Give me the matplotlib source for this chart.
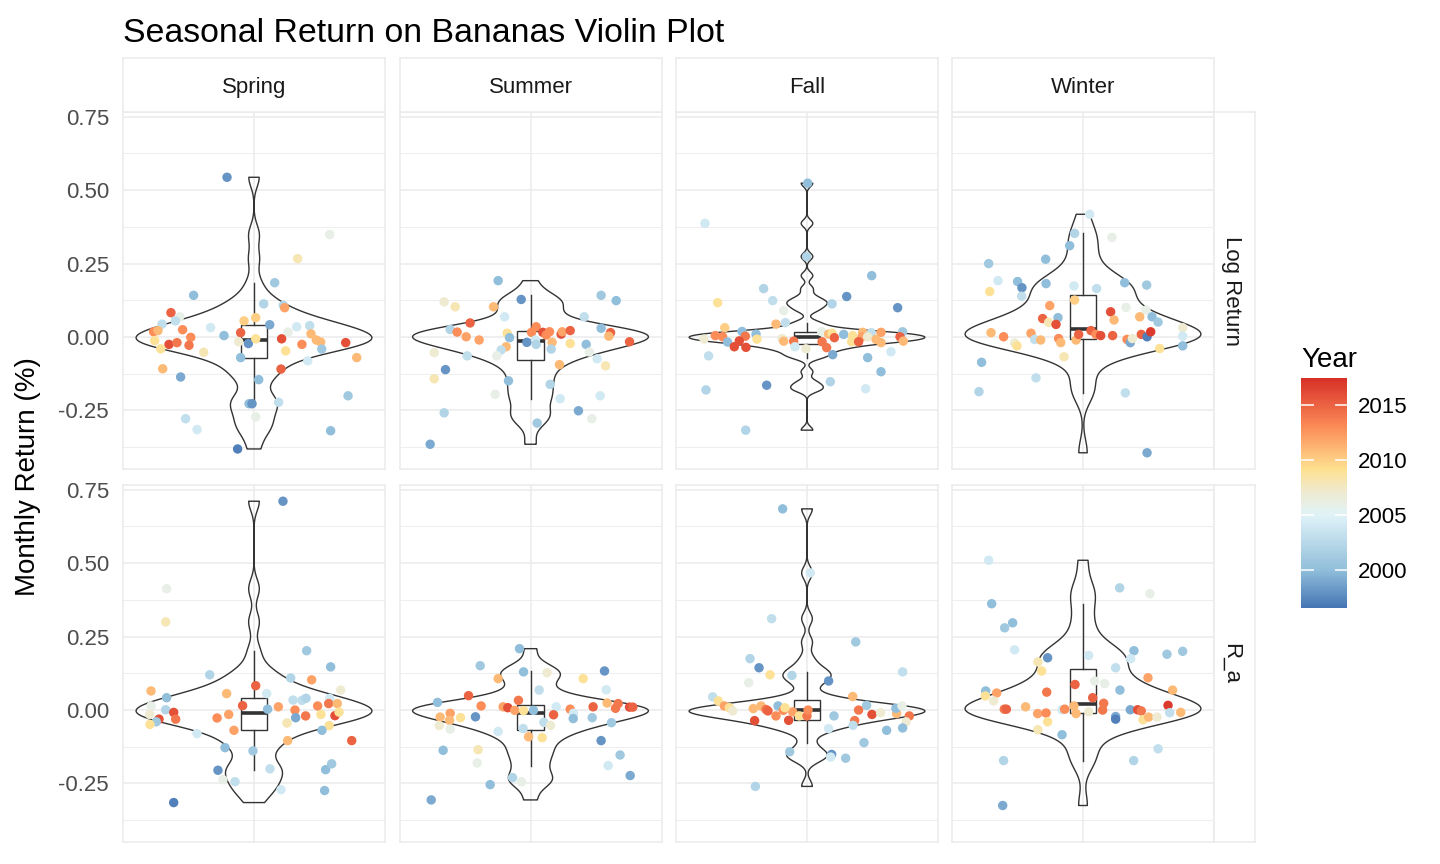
import numpy as np
import matplotlib
matplotlib.use("Agg")
import matplotlib.pyplot as plt
from matplotlib.colors import LinearSegmentedColormap, Normalize
from matplotlib.cm import ScalarMappable

plt.rcParams['font.family'] = ['Liberation Sans', 'DejaVu Sans']

seasons = ["Spring", "Summer", "Fall", "Winter"]
types = ["Log Return", "R_a"]

# jitter position (-1..1 across panel), monthly return, year
spring_log_x = [-0.206, 0.578, 0.333, 0.158, -0.461, 0.074, 0.224, 0.234, -0.634, -0.567, -0.600, -0.702,
                -0.076, 0.013, 0.120, -0.331, 0.326, 0.425, 0.260, -0.545, -0.766, -0.733, -0.229, -0.102,
                -0.483, 0.435, 0.211, -0.758, -0.649, -0.588, -0.496, -0.712, -0.384, -0.117, -0.043, 0.013,
                0.366, 0.476, 0.509, 0.517, 0.242, 0.700, 0.784, -0.102, 0.410, -0.697, 0.206, -0.560,
                0.036, 0.718, 0.188, -0.038, -0.015, -0.522, 0.013, -0.435, 0.585, -0.125]
spring_log_y = [0.544, 0.349, 0.267, 0.185, 0.142, 0.113, 0.108, 0.100, 0.083, 0.069, 0.055, 0.044,
                0.055, 0.066, 0.042, 0.032, 0.035, 0.039, 0.017, 0.025, 0.018, 0.022, 0.005, 0.015,
                -0.001, 0.011, -0.006, -0.012, -0.025, -0.019, -0.028, -0.040, -0.052, -0.016, -0.022, -0.006,
                -0.025, -0.010, -0.017, -0.041, -0.047, -0.019, -0.070, -0.070, -0.081, -0.108, -0.109, -0.136,
                -0.145, -0.200, -0.222, -0.227, -0.227, -0.278, -0.272, -0.315, -0.319, -0.381]
spring_log_year = [1998, 2006, 2008, 2001, 2000, 2002, 2002, 2012, 2015, 2006, 2003, 2003,
                   2010, 2010, 1999, 2004, 2004, 2003, 2006, 2013, 2013, 2011, 2000, 2015,
                   2013, 2011, 2016, 2009, 2016, 2014, 2014, 2009, 2008, 2007, 1998, 2009,
                   2013, 2011, 2011, 2001, 2009, 2016, 2011, 2000, 2004, 2011, 2015, 1999,
                   2000, 2001, 2003, 2000, 1998, 2003, 2006, 2004, 2000, 1997]

summer_log_x = [-0.247, 0.539, 0.654, -0.659, -0.575, -0.282, -0.071, -0.198, 0.410, -0.461, -0.613, -0.560,
                -0.491, -0.392, -0.178, -0.160, -0.186, -0.224, -0.257, -0.028, 0.008, 0.043, 0.038, 0.043,
                0.094, 0.120, 0.145, 0.165, 0.158, 0.234, 0.242, 0.303, 0.303, 0.425, 0.539, 0.611,
                0.598, 0.756, 0.450, 0.509, 0.573, 0.221, -0.735, -0.483, -0.649, -0.735, -0.168, 0.150,
                -0.270, 0.226, 0.532, 0.366, -0.659, 0.468, 0.051, -0.766]
summer_log_y = [0.192, 0.142, 0.124, 0.120, 0.103, 0.103, 0.128, 0.069, 0.069, 0.048, 0.026, 0.017,
                0.001, -0.010, 0.013, -0.002, -0.033, -0.044, -0.064, -0.018, 0.016, 0.035, -0.010, -0.025,
                0.016, 0.007, 0.018, -0.018, -0.041, 0.010, 0.018, 0.022, -0.022, -0.025, 0.030, 0.015,
                0.003, -0.016, -0.051, -0.074, -0.098, -0.094, -0.053, -0.064, -0.111, -0.142, -0.149, -0.161,
                -0.195, -0.210, -0.200, -0.251, -0.258, -0.278, -0.293, -0.365]
summer_log_year = [2000, 2001, 2000, 2007, 2008, 2011, 1998, 2004, 2003, 2015, 2002, 2013,
                   2012, 2012, 2009, 2000, 2011, 2003, 2006, 1998, 2013, 2013, 2004, 2002,
                   2016, 2013, 2013, 2011, 2002, 2016, 2012, 2015, 2009, 2000, 2000, 2015,
                   2011, 2015, 2006, 2004, 2008, 2011, 2007, 2003, 1998, 2008, 2000, 2002,
                   2006, 2004, 2004, 1999, 2002, 2006, 2001, 1999]

fall_log_x = [0.005, -0.779, -0.003, 0.494, -0.331, 0.303, -0.682, -0.262, 0.191, 0.692, -0.178, -0.237,
              -0.165, -0.628, -0.496, -0.389, -0.471, -0.700, -0.644, -0.786, -0.606, -0.517, -0.555, -0.466,
              -0.382, -0.191, -0.178, -0.102, -0.092, -0.008, 0.112, 0.165, 0.191, 0.209, 0.115, 0.150,
              0.280, 0.349, 0.341, 0.425, 0.420, 0.394, 0.491, 0.463, 0.565, 0.527, 0.565, 0.730,
              0.710, 0.735, 0.196, 0.463, 0.641, -0.751, 0.565, -0.308, 0.178, 0.448, -0.771, -0.468]
fall_log_y = [0.524, 0.387, 0.274, 0.209, 0.165, 0.138, 0.117, 0.124, 0.113, 0.100, 0.090, 0.044,
              0.049, 0.032, 0.019, 0.010, 0.003, 0.005, 0.001, -0.007, -0.017, -0.013, -0.033, -0.035,
              -0.007, -0.005, -0.014, -0.014, -0.033, -0.040, 0.018, 0.010, 0.013, -0.002, -0.016, -0.036,
              0.009, 0.005, -0.016, 0.016, 0.001, -0.016, 0.015, 0.001, 0.016, -0.008, -0.019, 0.018,
              0.001, -0.014, -0.060, -0.070, -0.050, -0.064, -0.118, -0.164, -0.152, -0.176, -0.180, -0.317]
fall_log_year = [2000, 2004, 2002, 2000, 2002, 1998, 2009, 2003, 2002, 1998, 2006, 2011,
                 2003, 2010, 2000, 2000, 2014, 2013, 2013, 2007, 2000, 2016, 2016, 2016,
                 2009, 2007, 2011, 2014, 2004, 2007, 2006, 2011, 2009, 2015, 2014, 2014,
                 2000, 2009, 2009, 2011, 2012, 2015, 2003, 2007, 2012, 2011, 2011, 2001,
                 2015, 2011, 1999, 2000, 2004, 2003, 2000, 1998, 2002, 2004, 2002, 2002]

winter_log_x = [0.051, -0.064, 0.221, -0.102, -0.720, -0.285, -0.649, -0.499, -0.466, -0.282, -0.069, 0.104,
                0.318, 0.486, -0.712, -0.468, -0.064, -0.254, 0.328, 0.481, -0.308, -0.191, -0.262, -0.206,
                0.211, 0.237, 0.433, 0.527, 0.573, 0.761, 0.761, 0.761, -0.702, -0.606, -0.397, -0.369,
                -0.522, -0.504, -0.323, -0.186, -0.170, -0.053, -0.033, 0.061, 0.099, 0.135, 0.226, 0.336,
                0.361, 0.377, 0.445, 0.489, 0.517, 0.585, -0.145, -0.774, -0.359, -0.794, 0.323, 0.489]
winter_log_y = [0.418, 0.353, 0.339, 0.311, 0.250, 0.265, 0.192, 0.189, 0.168, 0.182, 0.174, 0.165,
                0.185, 0.177, 0.155, 0.139, 0.126, 0.107, 0.101, 0.092, 0.063, 0.066, 0.050, 0.043,
                0.086, 0.058, 0.069, 0.069, 0.051, 0.032, 0.003, -0.030, 0.015, 0.001, 0.013, -0.008,
                -0.020, -0.030, -0.010, -0.005, -0.019, -0.010, 0.009, 0.022, 0.009, 0.005, 0.005, -0.008,
                -0.019, -0.005, 0.009, 0.001, 0.018, -0.039, -0.067, -0.086, -0.139, -0.186, -0.190, -0.394]
winter_log_year = [2004, 2002, 2006, 2000, 2001, 2000, 2004, 2000, 1998, 2000, 2004, 2003,
                   2000, 2001, 2009, 2003, 2010, 2012, 2006, 2006, 2015, 2000, 2008, 2016,
                   2016, 2011, 2011, 2000, 2001, 2007, 2004, 2000, 2011, 2013, 2012, 2003,
                   2007, 2009, 2011, 2013, 2011, 2011, 2015, 2015, 2013, 2016, 2015, 2013,
                   1999, 2007, 2015, 1997, 2017, 2009, 2008, 2000, 2003, 2002, 2003, 1999]

spring_ra_x = [0.221, -0.667, -0.674, 0.402, 0.585, -0.338, 0.280, 0.440, 0.013, -0.786, 0.662, -0.209,
               0.097, -0.667, 0.298, 0.366, 0.397, 0.578, -0.786, -0.674, -0.613, -0.796, -0.598, -0.725,
               -0.746, -0.794, -0.282, -0.193, -0.087, 0.104, 0.186, 0.313, 0.318, 0.394, 0.486, 0.570,
               0.636, 0.511, 0.618, 0.649, 0.252, 0.573, 0.519, -0.153, -0.435, 0.746, 0.257, -0.221,
               -0.008, -0.275, 0.547, 0.593, 0.122, -0.237, -0.145, 0.206, 0.539, -0.613]
spring_ra_y = [0.711, 0.413, 0.300, 0.202, 0.147, 0.120, 0.109, 0.103, 0.083, 0.065, 0.068, 0.056,
               0.056, 0.042, 0.034, 0.033, 0.040, 0.040, 0.014, 0.001, -0.008, -0.015, -0.031, -0.031,
               -0.040, -0.049, -0.027, -0.015, 0.015, 0.003, 0.011, 0.000, -0.026, -0.020, 0.014, 0.022,
               0.022, -0.015, -0.019, -0.007, -0.044, -0.053, -0.069, -0.069, -0.080, -0.104, -0.104, -0.128,
               -0.139, -0.205, -0.203, -0.183, -0.200, -0.237, -0.244, -0.271, -0.274, -0.315]
spring_ra_year = [1998, 2006, 2008, 2001, 2000, 2002, 2002, 2012, 2015, 2011, 2007, 2011,
                  2004, 2000, 2003, 2003, 2002, 2004, 2006, 2002, 2016, 2007, 2014, 2016,
                  2001, 2009, 2013, 2012, 2015, 2000, 2012, 2013, 1999, 2014, 2013, 2014,
                  2011, 2009, 2016, 2009, 2008, 2009, 2000, 2012, 2004, 2015, 2011, 2000,
                  2001, 1998, 2000, 2001, 2003, 2006, 2003, 2004, 2000, 1997]

summer_ra_x = [-0.084, -0.384, -0.053, 0.127, -0.247, 0.402, 0.565, 0.578, 0.066, -0.473, -0.710, -0.377,
               -0.092, -0.209, -0.173, -0.120, -0.053, 0.023, 0.196, 0.303, 0.328, 0.326, 0.478, 0.585,
               0.669, 0.649, 0.756, 0.781, 0.176, 0.471, 0.618, -0.690, -0.613, -0.618, -0.534, -0.420,
               -0.697, -0.613, 0.102, 0.153, -0.056, -0.247, -0.015, 0.089, 0.539, -0.400, -0.667, -0.407,
               0.684, 0.593, 0.761, -0.137, -0.069, -0.308, -0.758]
summer_ra_y = [0.209, 0.151, 0.130, 0.127, 0.107, 0.107, 0.133, 0.069, 0.068, 0.049, 0.026, 0.014,
               0.033, 0.011, 0.008, -0.001, -0.002, -0.001, 0.011, 0.003, -0.011, -0.029, 0.011, 0.024,
               0.022, 0.006, 0.010, 0.010, -0.016, -0.026, -0.043, -0.024, -0.011, -0.035, -0.026, -0.023,
               -0.053, -0.065, -0.042, -0.052, -0.063, -0.073, -0.091, -0.094, -0.104, -0.135, -0.137, -0.180,
               -0.153, -0.189, -0.223, -0.230, -0.244, -0.254, -0.306]
summer_ra_year = [2000, 2001, 2000, 2007, 2011, 2009, 1998, 2004, 2003, 2015, 2000, 2013,
                  2014, 2012, 2016, 2012, 2009, 2000, 2004, 2013, 2004, 2000, 2015, 2011,
                  2014, 2014, 2016, 2015, 2015, 2001, 2001, 2011, 2012, 2011, 2009, 1998,
                  2007, 2006, 2003, 2007, 2003, 2004, 2011, 2009, 1998, 2008, 2000, 2006,
                  2001, 2004, 1999, 2002, 2006, 2000, 1999]

fall_ra_x = [-0.186, 0.025, -0.270, 0.372, -0.435, -0.366, -0.282, -0.115, 0.730, -0.445, 0.165, 0.349,
             -0.720, -0.677, -0.631, -0.593, -0.567, 0.455, 0.394, 0.496, 0.562, 0.684, 0.679, 0.725,
             0.781, 0.756, 0.730, 0.608, 0.364, 0.351, 0.206, 0.165, 0.435, -0.410, -0.351, -0.313,
             -0.298, -0.237, -0.221, -0.181, -0.109, -0.168, -0.140, -0.059, 0.000, 0.008, -0.400, -0.132,
             0.188, 0.181, 0.295, -0.394]
fall_ra_y = [0.685, 0.467, 0.311, 0.232, 0.175, 0.144, 0.120, 0.118, 0.130, 0.093, 0.099, 0.046,
             0.045, 0.031, 0.014, 0.008, -0.003, 0.016, 0.000, -0.015, -0.009, -0.012, 0.006, 0.014,
             -0.020, -0.040, -0.061, -0.069, -0.036, -0.052, -0.020, -0.063, -0.111, 0.005, 0.014, 0.002,
             -0.003, -0.020, 0.014, -0.001, -0.006, 0.008, -0.035, -0.020, -0.020, 0.000, -0.036, -0.142,
             -0.151, -0.160, -0.164, -0.260]
fall_ra_year = [2000, 2004, 2003, 2001, 2002, 1998, 2009, 2002, 2003, 2006, 1998, 2011,
                2003, 2009, 2012, 2009, 2007, 2001, 2014, 2016, 2007, 2011, 2000, 2006,
                2014, 2007, 2000, 2000, 2014, 2003, 2001, 2004, 2001, 2011, 2011, 2014,
                2015, 2013, 2000, 2013, 2012, 2009, 2016, 2009, 2014, 2013, 2016, 2001,
                1998, 2004, 2001, 2002]

winter_ra_x = [-0.720, 0.280, 0.511, -0.697, -0.537, -0.598, -0.522, -0.270, 0.043, 0.389, 0.364, 0.641,
               0.761, 0.249, -0.344, -0.316, 0.496, -0.061, 0.089, 0.165, 0.282, 0.684, -0.277, -0.743,
               -0.659, -0.746, -0.682, 0.074, 0.158, -0.069, -0.601, -0.585, -0.438, -0.346, -0.282, -0.160,
               -0.140, -0.053, 0.043, 0.150, 0.249, 0.249, 0.361, 0.417, 0.445, 0.649, 0.662, 0.746,
               0.458, 0.501, 0.565, -0.270, -0.344, -0.160, 0.573, -0.606, 0.387, -0.613]
winter_ra_y = [0.510, 0.416, 0.396, 0.362, 0.297, 0.280, 0.205, 0.178, 0.186, 0.202, 0.175, 0.190,
               0.200, 0.144, 0.164, 0.133, 0.110, 0.087, 0.099, 0.090, 0.068, 0.068, 0.061, 0.065,
               0.058, 0.048, 0.031, 0.042, 0.023, 0.014, 0.003, 0.003, 0.011, -0.012, -0.010, 0.001,
               0.003, -0.012, -0.006, 0.000, -0.022, -0.031, 0.001, 0.001, -0.003, 0.016, -0.009, -0.008,
               -0.033, -0.024, -0.024, -0.040, -0.067, -0.084, -0.132, -0.172, -0.172, -0.325]
winter_ra_year = [2004, 2002, 2006, 2000, 2000, 2001, 2004, 1998, 2004, 2000, 2004, 2001,
                  2001, 2003, 2008, 2009, 2012, 2015, 2006, 2006, 2000, 2011, 2014, 2000,
                  2012, 2009, 2007, 2015, 2014, 2011, 2014, 2015, 2011, 2012, 2013, 2004,
                  2013, 2011, 2007, 2014, 1999, 1997, 1999, 2016, 2014, 2017, 2003, 2011,
                  2009, 2011, 2007, 2009, 2008, 2000, 2003, 2002, 2002, 1999]

panels = {
    ("Log Return", "Spring"): (spring_log_x, spring_log_y, spring_log_year),
    ("Log Return", "Summer"): (summer_log_x, summer_log_y, summer_log_year),
    ("Log Return", "Fall"): (fall_log_x, fall_log_y, fall_log_year),
    ("Log Return", "Winter"): (winter_log_x, winter_log_y, winter_log_year),
    ("R_a", "Spring"): (spring_ra_x, spring_ra_y, spring_ra_year),
    ("R_a", "Summer"): (summer_ra_x, summer_ra_y, summer_ra_year),
    ("R_a", "Fall"): (fall_ra_x, fall_ra_y, fall_ra_year),
    ("R_a", "Winter"): (winter_ra_x, winter_ra_y, winter_ra_year),
}

year_lo, year_hi = 1996.5, 2017.5
year_ticks = [2000, 2005, 2010, 2015]

# colour stops (year, colour) sampled from the legend bar
stop_years = [1996.5, 2000, 2005, 2007, 2009.2, 2013, 2017.5]
stop_colors = ["#4575B4", "#91BFDB", "#E0F3F8", "#EEEBD3", "#FEE090", "#FC8D59", "#D73027"]
cmap = LinearSegmentedColormap.from_list(
    "year_pal", [((y - year_lo) / (year_hi - year_lo), col) for y, col in zip(stop_years, stop_colors)])
norm = Normalize(year_lo, year_hi)

GRID = "#EBEBEB"
INK = "#333333"
W, H = 1440, 864


def rect(x0, y0, x1, y1):
    # pixel box (top-left origin) -> figure fraction
    return [x0 / W, 1 - y1 / H, (x1 - x0) / W, (y1 - y0) / H]


def nrd0(v):
    v = np.asarray(v, dtype=float)
    sd = v.std(ddof=1)
    q75, q25 = np.percentile(v, [75, 25])
    return 0.9 * min(sd, (q75 - q25) / 1.34) * len(v) ** -0.2


all_y = np.concatenate([np.asarray(p[1]) for p in panels.values()])
pad = 0.05 * (all_y.max() - all_y.min())
ylim = (all_y.min() - pad, all_y.max() + pad)

fig = plt.figure(figsize=(14.4, 8.64), dpi=100)

col_x = [123, 399.5, 676, 952]
panel_w = 262
row_y = [(112, 469), (485, 842)]

for r, typ in enumerate(types):
    for c, season in enumerate(seasons):
        x, y, yr = panels[(typ, season)]
        y = np.asarray(y)
        ax = fig.add_axes(rect(col_x[c], row_y[r][0], col_x[c] + panel_w, row_y[r][1]))
        ax.set_xlim(-1, 1)
        ax.set_ylim(*ylim)
        ax.set_yticks([-0.25, 0, 0.25, 0.5, 0.75])
        ax.set_yticks([-0.375, -0.125, 0.125, 0.375, 0.625], minor=True)
        ax.set_xticks([0])
        ax.grid(which="major", color=GRID, lw=1.1)
        ax.grid(which="minor", axis="y", color=GRID, lw=0.6)
        ax.set_axisbelow(True)
        ax.tick_params(which="both", length=0, labelbottom=False, labelsize=16,
                       labelcolor="#4D4D4D", pad=10)
        if c > 0:
            ax.tick_params(labelleft=False)
        else:
            ax.set_yticklabels(["-0.25", "0.00", "0.25", "0.50", "0.75"])
        for s in ax.spines.values():
            s.set_color(GRID)
            s.set_linewidth(1.1)

        bw = nrd0(y) / y.std(ddof=1)
        vp = ax.violinplot([y], positions=[0], widths=1.8, showextrema=False,
                           points=512, bw_method=lambda k, f=bw: f)
        for body in vp["bodies"]:
            body.set_facecolor("none")
            body.set_edgecolor(INK)
            body.set_alpha(1)
            body.set_linewidth(1.0)
            body.set_zorder(2)

        ax.boxplot(y, positions=[0], widths=0.2, showfliers=False, patch_artist=True,
                   manage_ticks=False, whis=1.5,
                   boxprops=dict(facecolor="white", edgecolor=INK, linewidth=1.0),
                   whiskerprops=dict(color=INK, linewidth=1.0),
                   capprops=dict(visible=False),
                   medianprops=dict(color=INK, linewidth=2.6, solid_capstyle="butt"),
                   zorder=3)

        ax.scatter(x, y, c=yr, cmap=cmap, norm=norm, s=46, linewidths=0, zorder=4)

# top strips
for c, season in enumerate(seasons):
    sax = fig.add_axes(rect(col_x[c], 58, col_x[c] + panel_w, 112))
    sax.set_xticks([])
    sax.set_yticks([])
    for s in sax.spines.values():
        s.set_color(GRID)
        s.set_linewidth(1.1)
    sax.text(0.5, 0.45, season, ha="center", va="center", fontsize=16, color="#1A1A1A",
             transform=sax.transAxes)

# right strips
for r, typ in enumerate(types):
    sax = fig.add_axes(rect(1214, row_y[r][0], 1255, row_y[r][1]))
    sax.set_xticks([])
    sax.set_yticks([])
    for s in sax.spines.values():
        s.set_color(GRID)
        s.set_linewidth(1.1)
    sax.text(0.42, 0.5, typ, ha="center", va="center", rotation=-90, fontsize=16,
             color="#1A1A1A", transform=sax.transAxes)

fig.text(123 / W, 1 - 42 / H, "Seasonal Return on Bananas Violin Plot", fontsize=24.4,
         ha="left", va="baseline")
fig.text(28 / W, 1 - 477 / H, "Monthly Return (%)", fontsize=20, rotation=90,
         ha="center", va="center")

# colour bar
cax = fig.add_axes(rect(1301, 378, 1347, 608))
cb = fig.colorbar(ScalarMappable(norm=norm, cmap=cmap), cax=cax)
cb.outline.set_visible(False)
cb.set_ticks(year_ticks)
cax.tick_params(direction="in", color="white", length=9, width=1.1, left=True, right=True,
                labelleft=False, labelright=True, labelsize=16, labelcolor="black", pad=8)
fig.text(1301 / W, 1 - 367 / H, "Year", fontsize=20, ha="left", va="baseline")

fig.savefig("out.png", dpi=100)
